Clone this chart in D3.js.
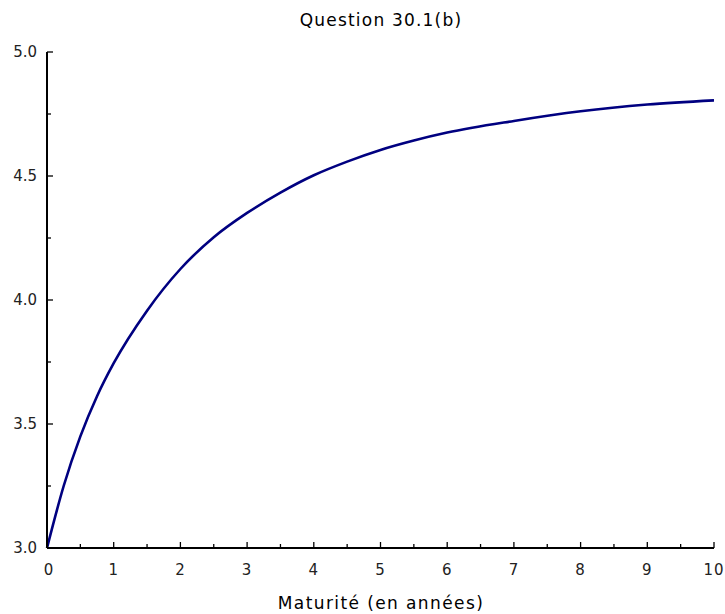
<!DOCTYPE html>
<html><head><meta charset="utf-8">
<script src="https://cdn.jsdelivr.net/npm/d3@7"></script>
<style>body{margin:0;background:#fff}</style>
</head><body>
<script>
const maturities = [0,0.25,0.5,0.75,1,1.5,2,2.5,3,3.5,4,4.5,5,5.5,6,7,8,9,10];
const yields = [3.00,3.25,3.45,3.612,3.745,3.957,4.125,4.253,4.351,4.433,4.503,4.558,4.605,4.643,4.675,4.722,4.761,4.788,4.805];
const xTicks = [0,1,2,3,4,5,6,7,8,9,10];
const yTicks = [3.0,3.5,4.0,4.5,5.0];
const title = "Question 30.1(b)";
const xLabel = "Maturité (en années)";

const W=725,H=614;
const m={l:47,r:11,t:52,b:66};
const svg=d3.select("body").append("svg").attr("width",W).attr("height",H);
const x=d3.scaleLinear().domain([0,10]).range([m.l,W-m.r]);
const y=d3.scaleLinear().domain([3,5]).range([H-m.b,m.t]);
const font="'DejaVu Sans', sans-serif";

// curve
const data=maturities.map((t,i)=>({t,v:yields[i]}));
svg.append("path").datum(data)
  .attr("d",d3.line().x(d=>x(d.t)).y(d=>y(d.v)).curve(d3.curveMonotoneX))
  .attr("fill","none").attr("stroke","#000080").attr("stroke-width",2.6);

// x axis
const xa=svg.append("g").attr("transform",`translate(0,${y(3)})`);
xa.append("line").attr("x1",x(0)).attr("x2",x(10)).attr("stroke","#000").attr("stroke-width",2);
const xMinor=d3.range(0.5,10,1);
xa.selectAll("line.maj").data(xTicks).join("line").attr("class","maj")
  .attr("x1",d=>x(d)).attr("x2",d=>x(d)).attr("y1",0).attr("y2",-6).attr("stroke","#000").attr("stroke-width",1.3);
xa.selectAll("line.min").data(xMinor).join("line").attr("class","min")
  .attr("x1",d=>x(d)).attr("x2",d=>x(d)).attr("y1",0).attr("y2",-4).attr("stroke","#000").attr("stroke-width",1.3);
xa.selectAll("text").data(xTicks).join("text")
  .attr("x",d=>x(d)+(d===0?2:0)).attr("y",27).attr("text-anchor","middle")
  .attr("font-family",font).attr("font-size",15).attr("letter-spacing",1).attr("fill","#222").text(d=>d);

// y axis
const ya=svg.append("g").attr("transform",`translate(${x(0)},0)`);
ya.append("line").attr("y1",y(3)).attr("y2",y(5)).attr("stroke","#000").attr("stroke-width",2);
const yMinor=d3.range(3.25,5,0.5);
ya.selectAll("line.maj").data(yTicks).join("line").attr("class","maj")
  .attr("y1",d=>y(d)).attr("y2",d=>y(d)).attr("x1",0).attr("x2",6).attr("stroke","#000").attr("stroke-width",1.3);
ya.selectAll("line.min").data(yMinor).join("line").attr("class","min")
  .attr("y1",d=>y(d)).attr("y2",d=>y(d)).attr("x1",0).attr("x2",4).attr("stroke","#000").attr("stroke-width",1.3);
ya.selectAll("text").data(yTicks).join("text")
  .attr("x",-10).attr("y",d=>y(d)).attr("dy","0.35em").attr("text-anchor","end")
  .attr("font-family",font).attr("font-size",15).attr("fill","#222").text(d=>d.toFixed(1));

// titles
svg.append("text").attr("x",381).attr("y",26).attr("text-anchor","middle")
  .attr("font-family",font).attr("font-size",17).attr("letter-spacing",1.2).attr("fill","#000").text(title);
svg.append("text").attr("x",381).attr("y",609).attr("text-anchor","middle")
  .attr("font-family",font).attr("font-size",17).attr("letter-spacing",1.4).attr("fill","#000").text(xLabel);
</script>
</body></html>
